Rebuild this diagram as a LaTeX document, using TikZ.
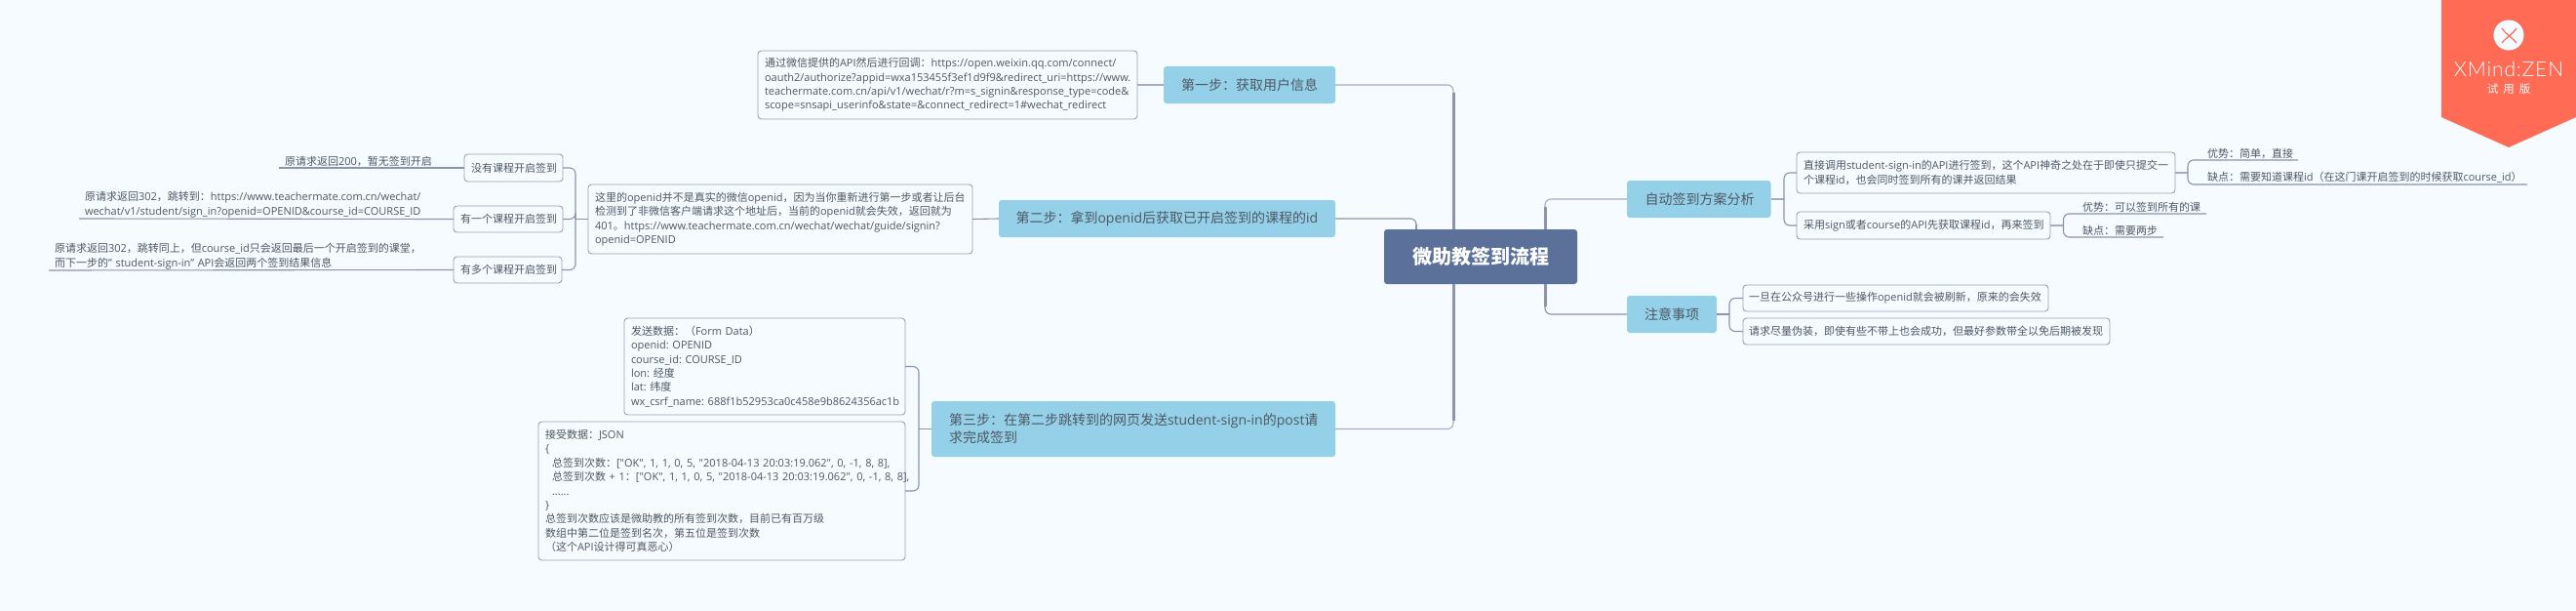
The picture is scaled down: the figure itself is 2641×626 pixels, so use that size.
\documentclass[tikz,border=0pt]{standalone}
\usepackage{fontspec}
\setmainfont{Open Sans}
\newfontfamily\lat{Open Sans}
\newfontfamily\cjk{Noto Sans CJK SC}
\newfontfamily\banf[LetterSpace=4,UprightFont={* Light}]{Lato}
\newXeTeXintercharclass\cjkclass
\newcount\cc
\cc="4E00 \loop\XeTeXcharclass\cc=\cjkclass\advance\cc 1 \ifnum\cc<"A000 \repeat
\cc="3000 \loop\XeTeXcharclass\cc=\cjkclass\advance\cc 1 \ifnum\cc<"3040 \repeat
\cc="FF00 \loop\XeTeXcharclass\cc=\cjkclass\advance\cc 1 \ifnum\cc<"FFF0 \repeat
\XeTeXinterchartoks 0 \cjkclass={\cjk}
\XeTeXinterchartoks \cjkclass 0 ={\lat}
\XeTeXinterchartoks 4095 \cjkclass={\cjk}
\XeTeXinterchartoks 4095 0 ={\lat}
\newcommand\mix{\XeTeXinterchartokenstate=1\relax\frenchspacing}
\definecolor{bg}{HTML}{F5FBFF}
\definecolor{topicc}{HTML}{94D1E8}
\definecolor{rootc}{HTML}{5B7199}
\definecolor{txt}{HTML}{4E5763}
\definecolor{rim}{HTML}{98A2B6}
\definecolor{wire}{HTML}{A3ADC0}
\definecolor{wired}{HTML}{8A95AB}
\definecolor{ban}{HTML}{FF6B54}
\newcommand\lx[1]{\mbox{#1}}
\tikzset{
  wh/.code n args={3}{\pgfmathsetmacro\tw{#1-2*#3}\pgfkeysalso{minimum width=#1pt,minimum height=#2pt,text width=\tw pt,inner xsep=#3pt}},
  base/.style={anchor=north west,inner ysep=0pt,outer sep=0pt,align=left,text=txt},
  small/.style={font=\fontsize{11}{14.4}\selectfont\mix},
  note/.style={base,small,draw=rim,line width=.9pt,fill=bg,rounded corners=3.5pt},
  topic/.style={base,font=\fontsize{14}{18}\selectfont\mix,fill=topicc,rounded corners=3pt},
  leaf/.style={base,small},
  rootbox/.style={anchor=north west,inner sep=0pt,outer sep=0pt,fill=rootc,rounded corners=3pt,text=white,minimum width=198pt,minimum height=56pt,font=\fontsize{20}{24}\selectfont\bfseries\mix},
  thinw/.style={draw=wire,line width=1.1pt,rounded corners=6pt},
  thickw/.style={draw=wired,line width=3pt,rounded corners=6pt},
  midw/.style={draw=wired,line width=1.1pt,rounded corners=6pt},
  stem/.style={draw=wire,line width=1.5pt},
}
\begin{document}
\begin{tikzpicture}[x=1pt,y=-1pt]
\useasboundingbox (0,0) rectangle (2641,626);
\fill[bg] (0,0) rectangle (2641,626);

\coordinate (rtA) at (1490,235);
\coordinate (rtB) at (1452,235);
\coordinate (rbA) at (1490,291);
\coordinate (rtC) at (1584,235);
\coordinate (rbC) at (1584,291);
\coordinate (jL) at (590,224.5);
\coordinate (jT) at (942,439.5);
\coordinate (jA) at (1829,204);
\coordinate (jN) at (1773,322);
\coordinate (jAa) at (2243,177);
\coordinate (jAb) at (2115.5,231);

\node[rootbox] (root) at (1419,235) {\centering 微助教签到流程};

\node[topic,wh={176}{38}{18}] (st1) at (1193,68) {\lx{第一步：获取用户信息}};
\node[topic,wh={345}{38}{17.5}] (st2) at (1024,205) {\lx{第二步：拿到openid后获取已开启签到的课程的id}};
\node[topic,wh={414}{57}{18}] (st3) at (955,411) {\lx{第三步：在第二步跳转到的网页发送student-sign-in的post请}\\\lx{求完成签到}};
\node[topic,wh={147.5}{38}{18.5}] (ana) at (1668,185) {\lx{自动签到方案分析}};
\node[topic,wh={92}{38}{18}] (att) at (1668,303) {\lx{注意事项}};

\node[note,wh={389}{70}{7}] (n1) at (777,52) {\lx{通过微信提供的API然后进行回调：https://open.weixin.qq.com/connect/}\\\lx{oauth2/authorize?appid=wxa153455f3ef1d9f9\&redirect\_uri=https://www.}\\\lx{teachermate.com.cn/api/v1/wechat/r?m=s\_signin\&response\_type=code\&}\\\lx{scope=snsapi\_userinfo\&state=\&connect\_redirect=1\#wechat\_redirect}};
\node[note,wh={394}{71}{7}] (n2) at (603,189) {\lx{这里的openid并不是真实的微信openid，因为当你重新进行第一步或者让后台}\\\lx{检测到了非微信客户端请求这个地址后，当前的openid就会失效，返回就为}\\\lx{401。https://www.teachermate.com.cn/wechat/wechat/guide/signin?}\\\lx{openid=OPENID}};
\node[note,wh={288}{99}{7}] (n3a) at (640,326) {\lx{发送数据：（Form Data）}\\\lx{openid: OPENID}\\\lx{course\_id: COURSE\_ID}\\\lx{lon: 经度}\\\lx{lat: 纬度}\\\lx{wx\_csrf\_name: 688f1b52953ca0c458e9b8624356ac1b}};
\node[note,wh={376}{142}{7}] (n3b) at (552,432) {\lx{接受数据：JSON}\\\lx{\{}\\\lx{\hspace*{7pt}总签到次数：["OK", 1, 1, 0, 5, "2018-04-13 20:03:19.062", 0, -1, 8, 8],}\\\lx{\hspace*{7pt}总签到次数 + 1：["OK", 1, 1, 0, 5, "2018-04-13 20:03:19.062", 0, -1, 8, 8],}\\\lx{\hspace*{7pt}......}\\\lx{\}}\\\lx{总签到次数应该是微助教的所有签到次数，目前已有百万级}\\\lx{数组中第二位是签到名次，第五位是签到次数}\\\lx{（这个API设计得可真恶心）}};

\node[note,wh={101}{28}{7}] (s1) at (476,158) {\lx{没有课程开启签到}};
\node[note,wh={112}{27}{7}] (s2) at (465,211) {\lx{有一个课程开启签到}};
\node[note,wh={111}{27}{7}] (s3) at (465,263) {\lx{有多个课程开启签到}};
\node[leaf,wh={170}{14}{6}] (l1) at (286,158) {\lx{原请求返回200，暂无签到开启}};
\node[leaf,wh={380}{29}{6}] (l2) at (81,195) {\lx{原请求返回302，跳转到：https://www.teachermate.com.cn/wechat/}\\\lx{wechat/v1/student/sign\_in?openid=OPENID\&course\_id=COURSE\_ID}};
\node[leaf,wh={390}{29}{6}] (l3) at (50,248) {\lx{原请求返回302，跳转同上，但course\_id只会返回最后一个开启签到的课堂，}\\\lx{而下一步的” student-sign-in” API会返回两个签到结果信息}};

\node[note,wh={388}{42}{7}] (a1) at (1842,156) {\lx{直接调用student-sign-in的API进行签到，这个API神奇之处在于即使只提交一}\\\lx{个课程id，也会同时签到所有的课并返回结果}};
\node[note,wh={260}{28}{7}] (a2) at (1842,217) {\lx{采用sign或者course的API先获取课程id，再来签到}};
\node[leaf,wh={100}{14}{7}] (a1p) at (2256,150) {\lx{优势：简单，直接}};
\node[leaf,wh={335}{14}{7}] (a1c) at (2256,175) {\lx{缺点：需要知道课程id（在这门课开启签到的时候获取course\_id）}};
\node[leaf,wh={134}{14}{7}] (a2p) at (2128,205) {\lx{优势：可以签到所有的课}};
\node[leaf,wh={90}{14}{7}] (a2c) at (2128,229) {\lx{缺点：需要两步}};
\node[note,wh={313}{27}{6}] (t1) at (1787,292) {\lx{一旦在公众号进行一些操作openid就会被刷新，原来的会失效}};
\node[note,wh={376}{27}{6}] (t2) at (1787,326) {\lx{请求尽量伪装，即使有些不带上也会成功，但最好参数带全以免后期被发现}};

\draw[thinw] (st1.east) -| (rtA);
\draw[thickw] (1490,95) -- (rtA);
\draw[midw] (st2.east) -| (rtB);
\draw[thickw,line width=2.5pt] (1452,229.5) -- (rtB);
\draw[thinw] (st3.east) -| (rbA);
\draw[thickw] (rbA) -- (1490,431);
\draw[thinw] (ana.west) -| (rtC);
\draw[thickw] (1584,212) -- (rtC);
\draw[midw] (att.west) -| (rbC);
\draw[thickw] (rbC) -- (1584,314);

\draw[stem] (st1.west) -- (n1.east);
\draw[midw] (st2.west) -- (n2.east);
\draw[midw] (st3.west) -- (jT);
\draw[midw] (jT) |- (n3a.east);
\draw[midw] (jT) |- (n3b.east);
\draw[stem] (ana.east) -- (jA);
\draw[midw] (jA) |- (a1.west);
\draw[midw] (jA) |- (a2.west);
\draw[midw] (att.east) -- (jN);
\draw[midw] (jN) |- (t1.west);
\draw[midw] (jN) |- (t2.west);

\draw[midw] (n2.west) -- (jL);
\draw[midw] (jL) |- (s1.east);
\draw[midw] (jL) |- (s2.east);
\draw[midw] (jL) |- (s3.east);
\draw[midw] (s1.west) -- (l1.south west);
\draw[midw] (s2.west) -- (l2.south west);
\draw[midw] (s3.west) -- (l3.south west);
\draw[stem] (a1.east) -- (jAa);
\draw[midw] (jAa) |- (a1p.south east);
\draw[midw] (jAa) |- (a1c.south east);
\draw[stem] (a2.east) -- (jAb);
\draw[midw] (jAb) |- (a2p.south east);
\draw[midw] (jAb) |- (a2c.south east);

\fill[ban] (2503,0) -- (2641,0) -- (2641,120) -- (2572,151) -- (2503,120) -- cycle;
\fill[bg] (2572,36) circle (15.5pt);
\draw[ban,line width=1.2pt,line cap=round] (2565,29) .. controls (2569,35) and (2575,38) .. (2580,44);
\draw[ban,line width=1.2pt,line cap=round] (2580,29) .. controls (2576,35) and (2570,38) .. (2565,44);
\node[anchor=center,inner sep=0pt,text=white,font=\fontsize{21}{24}\selectfont] (brand) at (2572,71) {\banf XMind:ZEN};
\node[anchor=center,inner sep=0pt,text=white,font=\fontsize{11.5}{14}\selectfont\mix] (trial) at (2572,91) {试\hspace{5pt}用\hspace{5pt}版};
\end{tikzpicture}
\end{document}
